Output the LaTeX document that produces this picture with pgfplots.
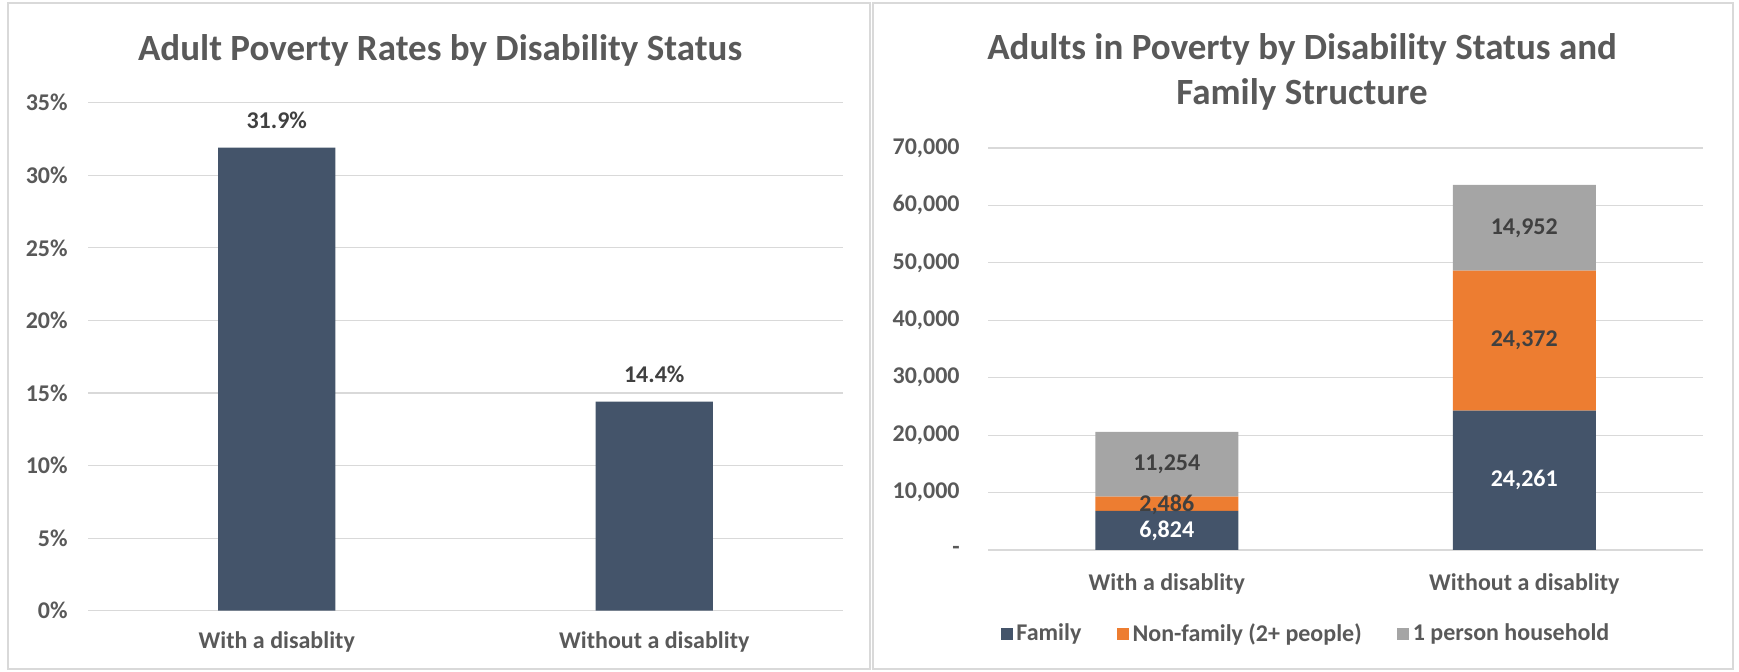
\documentclass[border=0pt]{standalone}
\usepackage{fontspec}
\setmainfont{Carlito}
\usepackage{pgfplots}
\pgfplotsset{compat=1.18}
\definecolor{navy}{HTML}{44546A}
\definecolor{orng}{HTML}{ED7D31}
\definecolor{gry}{HTML}{A5A5A5}
\definecolor{txt}{HTML}{595959}
\definecolor{dlab}{HTML}{404040}
\definecolor{gridc}{HTML}{D9D9D9}
\definecolor{framec}{HTML}{D9D9D9}
\newcommand{\lblfont}{\fontsize{12}{14}\selectfont\bfseries}
\newcommand{\ttlfont}{\fontsize{18.5}{22.5}\selectfont\bfseries}
\begin{document}
\begin{tikzpicture}
\path[use as bounding box] (0,0) rectangle (869.5pt,336pt);
\draw[framec, line width=1pt] (4pt,1.5pt) rectangle (435pt,334.5pt);
\draw[framec, line width=1pt] (436.5pt,1.5pt) rectangle (866.5pt,334.5pt);

\pgfplotsset{
  panel/.style={
    scale only axis, anchor=south west,
    axis line style={draw=none},
    major tick length=0pt,
    ymajorgrids, grid style={gridc, line width=0.6pt},
    xmin=-0.5, xmax=1.5, xtick={0,1},
    ticklabel style={font=\lblfont, text=txt},
    scaled y ticks=false,
    /pgf/number format/assume math mode=true,
    xticklabels={With a disablity, Without a disablity},
  }
}

\begin{axis}[panel, at={(44pt,30.65pt)}, width=377.5pt, height=254pt,
  ybar, bar width=0.31, ymin=0, ymax=35, ytick={0,5,...,35},
  yticklabels={0\%,5\%,10\%,15\%,20\%,25\%,30\%,35\%},
  yticklabel style={anchor=east, inner sep=0pt, xshift=-10pt},
  xticklabel style={anchor=north, inner sep=0pt, yshift=-10.4pt},
  nodes near coords, point meta=explicit symbolic,
  nodes near coords style={font=\lblfont, text=dlab, anchor=south, inner sep=0pt, yshift=9.5pt},
]
\addplot[fill=navy, draw=none] coordinates {(0,31.9) [31.9\%] (1,14.4) [14.4\%]};
\end{axis}
\node[font=\ttlfont, text=txt] at (220pt,311pt) {Adult Poverty Rates by Disability Status};

\begin{axis}[panel, at={(494pt,61pt)}, width=357.5pt, height=201pt,
  ybar stacked, bar width=0.40, ymin=0, ymax=70000, ytick={0,10000,...,70000},
  yticklabels={{-},{10,000},{20,000},{30,000},{40,000},{50,000},{60,000},{70,000}},
  yticklabel style={anchor=east, inner sep=0pt, xshift=-14pt},
  xticklabel style={anchor=north, inner sep=0pt, yshift=-11.8pt},
  legend columns=-1,
  legend style={draw=none, fill=none, at={(0.446,-0.209)}, anchor=center,
    font=\lblfont, text=txt, nodes={inner sep=1.8pt},
    /tikz/every even column/.append style={column sep=16pt}},
  legend image code/.code={\fill[#1] (0pt,-3pt) rectangle (6pt,3pt);},
]
\addplot[fill=navy, draw=none] coordinates {(0,6824) (1,24261)};
\addplot[fill=orng, draw=none] coordinates {(0,2486) (1,24372)};
\addplot[fill=gry, draw=none] coordinates {(0,11254) (1,14952)};
\legend{Family, Non-family (2+ people), 1 person household}
\end{axis}

\begin{axis}[scale only axis, anchor=south west, at={(494pt,61pt)}, width=357.5pt, height=201pt,
  xmin=-0.5, xmax=1.5, ymin=0, ymax=70000, hide axis,
  point meta=explicit symbolic, nodes near coords,
  nodes near coords style={anchor=center, inner sep=0pt, font=\lblfont},
]
\addplot[draw=none, mark=none, nodes near coords style={text=white}] coordinates {(0,3412) [6,824] (1,12130.5) [24,261]};
\addplot[draw=none, mark=none, nodes near coords style={text=dlab}] coordinates {(0,7900) [2,486] (1,36447) [24,372] (0,14937) [11,254] (1,56109) [14,952]};
\end{axis}
\node[font=\ttlfont, text=txt, align=center] at (651pt,300pt) {Adults in Poverty by Disability Status and\\Family Structure};
\end{tikzpicture}
\end{document}
